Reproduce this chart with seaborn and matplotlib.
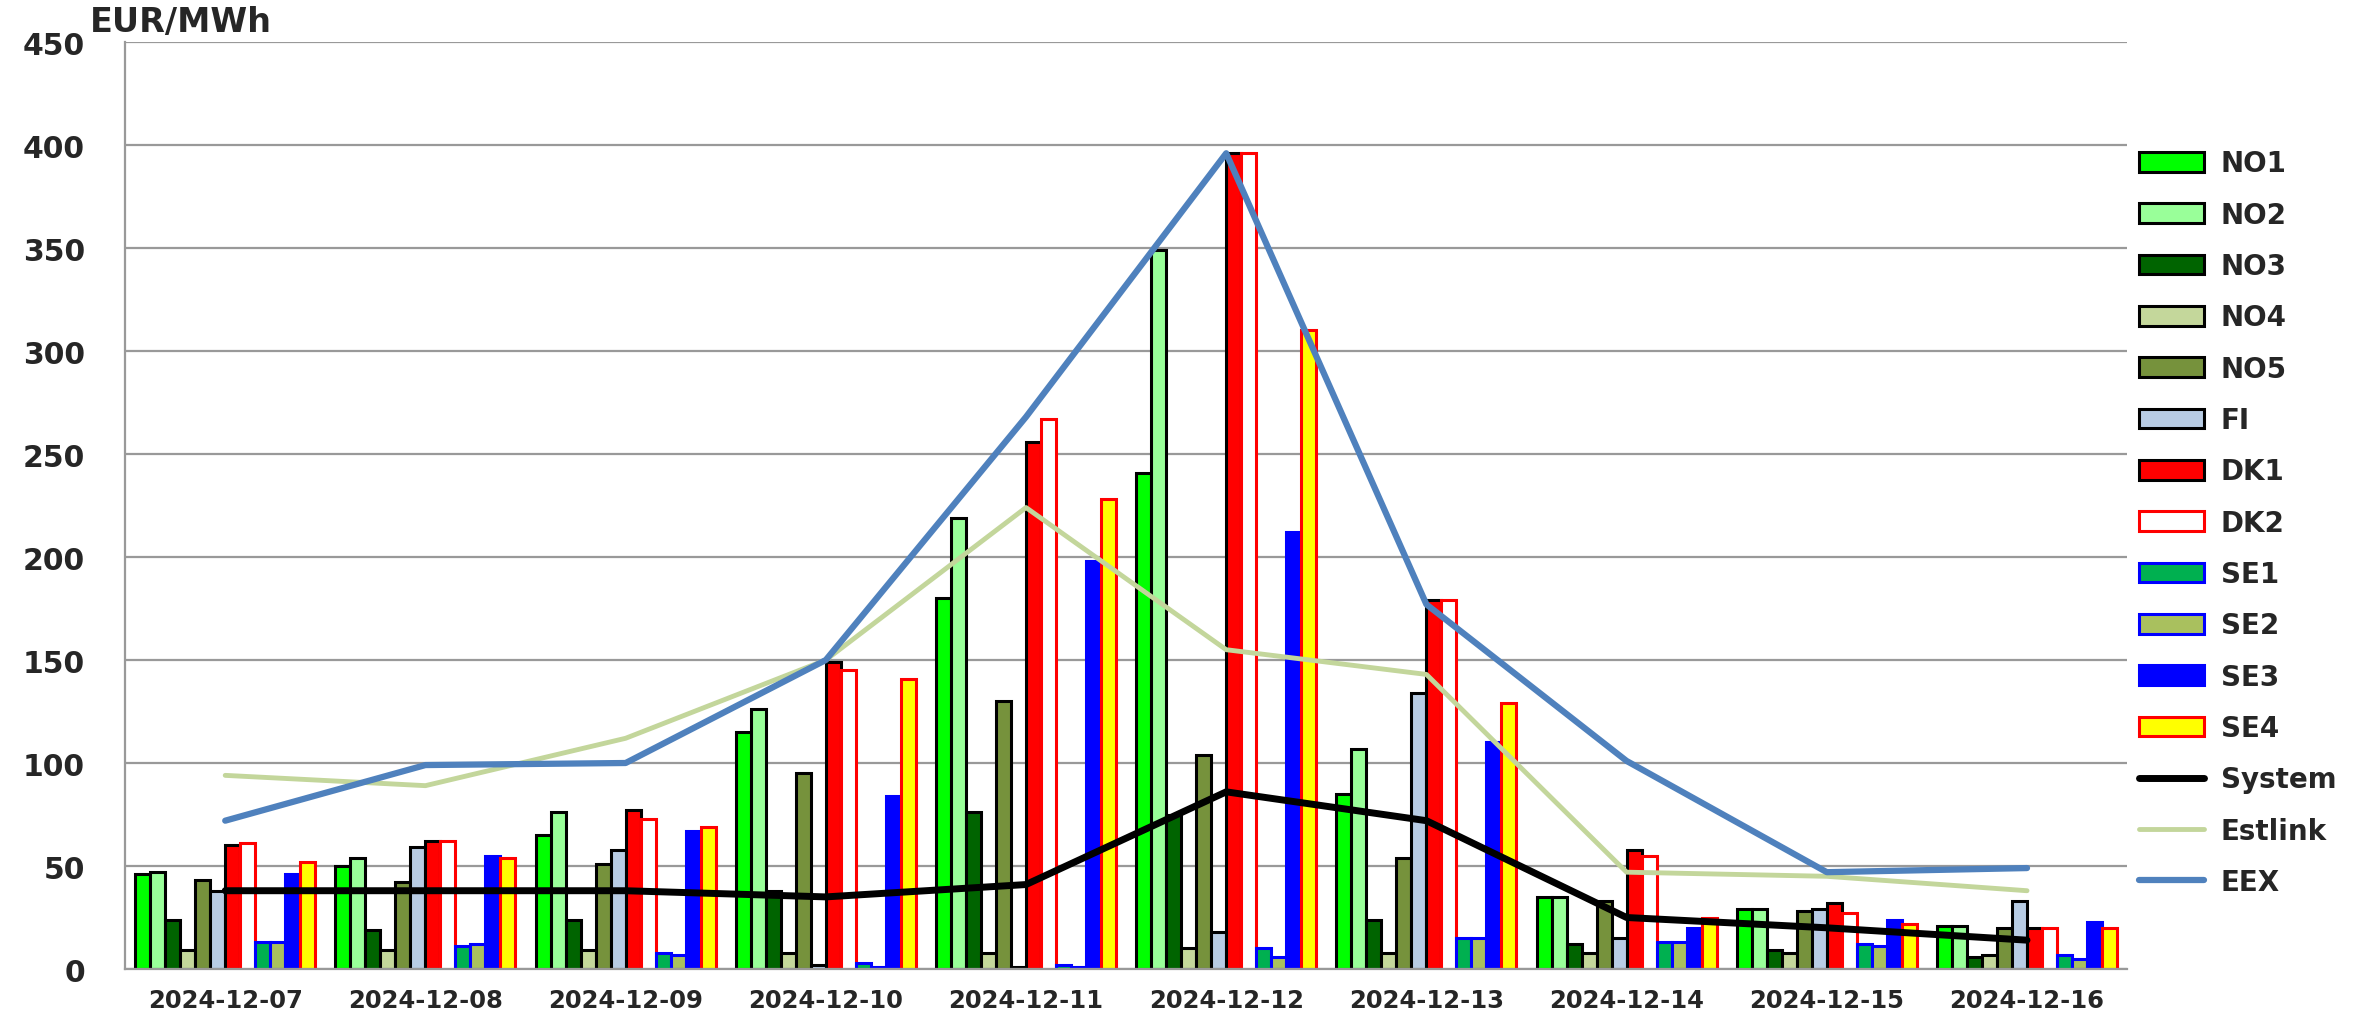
import numpy as np
import pandas as pd
import matplotlib
matplotlib.use("Agg")
import matplotlib.pyplot as plt
import seaborn as sns
from matplotlib.patches import Patch
from matplotlib.lines import Line2D

dates = ["2024-12-07", "2024-12-08", "2024-12-09", "2024-12-10", "2024-12-11",
         "2024-12-12", "2024-12-13", "2024-12-14", "2024-12-15", "2024-12-16"]
zones = ["NO1", "NO2", "NO3", "NO4", "NO5", "FI", "DK1", "DK2", "SE1", "SE2", "SE3", "SE4"]

NO1 = [46, 50, 65, 115, 180, 241, 85, 35, 29, 21]
NO2 = [47, 54, 76, 126, 219, 349, 107, 35, 29, 21]
NO3 = [24, 19, 24, 38, 76, 75, 24, 12, 9, 6]
NO4 = [9, 9, 9, 8, 8, 10, 8, 8, 8, 7]
NO5 = [43, 42, 51, 95, 130, 104, 54, 33, 28, 20]
FI = [38, 59, 58, 2, 1, 18, 134, 15, 29, 33]
DK1 = [60, 62, 77, 149, 256, 396, 179, 58, 32, 20]
DK2 = [61, 62, 73, 145, 267, 396, 179, 55, 27, 20]
SE1 = [13, 11, 8, 3, 2, 10, 15, 13, 12, 7]
SE2 = [13, 12, 7, 1, 1, 6, 15, 13, 11, 5]
SE3 = [46, 55, 67, 84, 198, 212, 110, 20, 24, 23]
SE4 = [52, 54, 69, 141, 228, 310, 129, 25, 22, 20]

System = [38, 38, 38, 35, 41, 86, 72, 25, 20, 14]
Estlink = [94, 89, 112, 150, 224, 155, 143, 47, 45, 38]
EEX = [72, 99, 100, 150, 268, 396, 177, 101, 47, 49]

fills = {"NO1": "#00FF00", "NO2": "#99FF99", "NO3": "#006400", "NO4": "#C4D79B",
         "NO5": "#76923C", "FI": "#B8CCE4", "DK1": "#FF0000", "DK2": "#FFFFFF",
         "SE1": "#00B050", "SE2": "#A9C05E", "SE3": "#0000FF", "SE4": "#FFFF00"}
edges = {"NO1": "black", "NO2": "black", "NO3": "black", "NO4": "black",
         "NO5": "black", "FI": "black", "DK1": "black", "DK2": "#FF0000",
         "SE1": "#0000FF", "SE2": "#0000FF", "SE3": "#0000FF", "SE4": "#FF0000"}

series = {"NO1": NO1, "NO2": NO2, "NO3": NO3, "NO4": NO4, "NO5": NO5, "FI": FI,
          "DK1": DK1, "DK2": DK2, "SE1": SE1, "SE2": SE2, "SE3": SE3, "SE4": SE4}
rows = []
for z in zones:
    for d, v in zip(dates, series[z]):
        rows.append({"date": d, "zone": z, "value": v})
df = pd.DataFrame(rows)

sns.set_theme(style="white")
plt.rcParams["font.family"] = ["DejaVu Sans"]

fig = plt.figure(figsize=(23.74, 10.12), dpi=100)
ax = fig.add_axes([0.0527, 0.0415, 0.8433, 0.916])

sns.barplot(data=df, x="date", y="value", hue="zone", hue_order=zones,
            order=dates, palette=fills, width=0.9, gap=0, ax=ax, legend=False,
            linewidth=2.2, saturation=1)
for cont, z in zip(ax.containers, zones):
    for bar in cont:
        bar.set_edgecolor(edges[z])
        bar.set_linewidth(2.2)

xpos = np.arange(len(dates))
sns.lineplot(x=xpos, y=Estlink, color="#C3D69B", linewidth=3.5, ax=ax)
sns.lineplot(x=xpos, y=EEX, color="#4F81BD", linewidth=4.5, ax=ax)
sns.lineplot(x=xpos, y=System, color="black", linewidth=5, ax=ax)

ax.set_xlim(-0.5, len(dates) - 0.5)
ax.set_ylim(0, 450)
ax.set_yticks(np.arange(0, 451, 50))
ax.yaxis.grid(True, color="#999999", linewidth=1.6)
ax.set_axisbelow(True)
ax.set_xlabel("")
ax.set_ylabel("")
for s in ["top", "right"]:
    ax.spines[s].set_visible(False)
for s in ["left", "bottom"]:
    ax.spines[s].set_color("#999999")
    ax.spines[s].set_linewidth(1.6)

ax.set_xticks(xpos)
ax.set_xticklabels(dates, fontsize=17.5, fontweight="bold")
ax.set_xticks(np.arange(-0.5, len(dates), 1.0), minor=True)
ax.tick_params(axis="x", which="major", length=0, pad=14)
ax.tick_params(axis="x", which="minor", length=8, width=1.6, color="#999999", direction="out")
ax.tick_params(axis="y", length=9, width=1.6, color="#999999", direction="out", pad=20)
for lbl in ax.get_yticklabels():
    lbl.set_fontsize(21.5)
    lbl.set_fontweight("bold")

fig.text(0.038, 0.978, "EUR/MWh", fontsize=24, fontweight="bold", ha="left", va="center")

handles = [Patch(facecolor=fills[z], edgecolor=edges[z], linewidth=2.2, label=z) for z in zones]
handles += [Line2D([0], [0], color="black", linewidth=5, label="System"),
            Line2D([0], [0], color="#C3D69B", linewidth=3.5, label="Estlink"),
            Line2D([0], [0], color="#4F81BD", linewidth=4.5, label="EEX")]
leg = fig.legend(handles=handles, loc="upper left", bbox_to_anchor=(0.8905, 0.876),
                 frameon=False, prop={"size": 20, "weight": "bold"},
                 handlelength=2.35, handleheight=0.72, labelspacing=0.84, handletextpad=0.6)

fig.savefig("out.png", dpi=100)
